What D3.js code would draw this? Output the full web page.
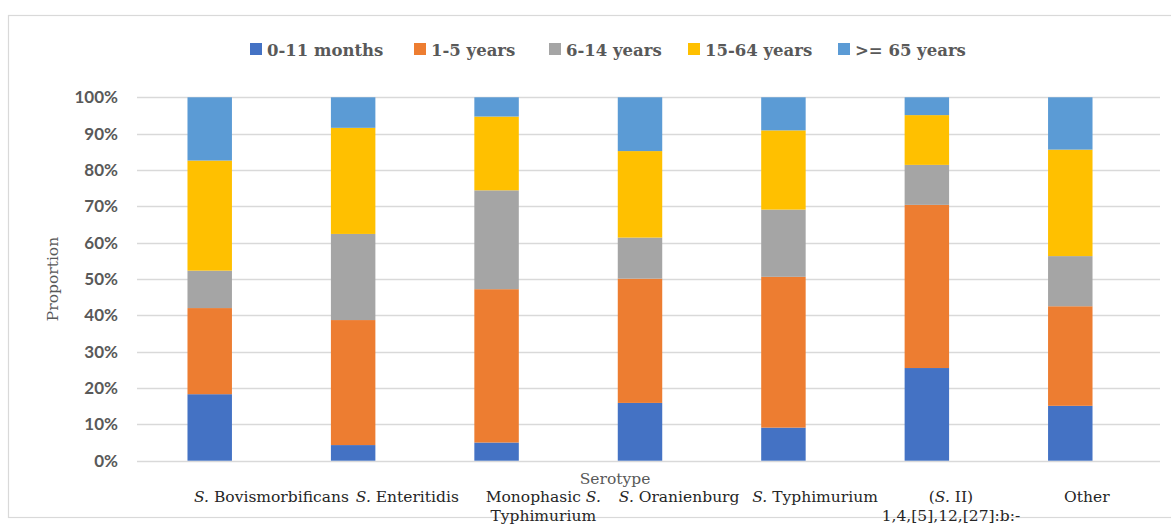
<!DOCTYPE html>
<html><head><meta charset="utf-8">
<script src="https://cdn.jsdelivr.net/npm/d3@7"></script>
<style>
html,body{margin:0;padding:0;background:#fff;}
svg{display:block;}
</style></head>
<body>
<script>
const categories = ["S. Bovismorbificans","S. Enteritidis","Monophasic S. Typhimurium","S. Oranienburg","S. Typhimurium","(S. II) 1,4,[5],12,[27]:b:-","Other"];
const seriesNames = ["0-11 months","1-5 years","6-14 years","15-64 years",">= 65 years"];
const age0_11m = [18.3, 4.3, 5.0, 15.9, 9.1, 25.5, 15.1];
const age1_5y  = [23.7, 34.4, 42.2, 34.2, 41.5, 44.9, 27.4];
const age6_14y = [10.3, 23.7, 27.2, 11.3, 18.5, 11.0, 13.8];
const age15_64y= [30.3, 29.2, 20.3, 23.8, 21.8, 13.7, 29.3];
const age65p   = [17.4, 8.4, 5.3, 14.8, 9.1, 4.9, 14.4];
const yTicks = [0,10,20,30,40,50,60,70,80,90,100];
const colors = ["#4472C4","#ED7D31","#A5A5A5","#FFC000","#5B9BD5"];

const labelLines = [
  [[["S.",true],[" Bovismorbificans",false]]],
  [[["S.",true],[" Enteritidis",false]]],
  [[["Monophasic ",false],["S.",true]],[["Typhimurium",false]]],
  [[["S.",true],[" Oranienburg",false]]],
  [[["S.",true],[" Typhimurium",false]]],
  [[["(",false],["S.",true],[" II)",false]],[["1,4,[5],12,[27]:b:-",false]]],
  [[["Other",false]]]
];

const W = 1171, H = 524;
const svg = d3.select("body").append("svg").attr("width", W).attr("height", H);

svg.append("rect").attr("x", 8.5).attr("y", 15.5).attr("width", 1200).attr("height", 502)
  .attr("fill", "#fff").attr("stroke", "#d9d9d9").attr("stroke-width", 1.2);

const x = d3.scaleBand().domain(categories).range([138, 1142]).paddingInner(0.69).paddingOuter(0.345);
// tick labels in the reference sit offset to the right of their bars
const xLab = d3.scaleBand().domain(categories).range([203.5, 1154.8]);
const y = d3.scaleLinear().domain([0, 100]).range([460.7, 97.3]);

svg.append("g").selectAll("line").data(yTicks).join("line")
  .attr("x1", 137).attr("x2", 1160)
  .attr("y1", d => Math.round(y(d)) + 0.5).attr("y2", d => Math.round(y(d)) + 0.5)
  .attr("stroke", "#d9d9d9").attr("stroke-width", 1.3);

const yAxis = d3.axisLeft(y).tickValues(yTicks).tickFormat(d => d + "%").tickSize(0).tickPadding(0);
const ya = svg.append("g").attr("transform", "translate(118,0)").call(yAxis);
ya.select(".domain").remove();
ya.selectAll("text").attr("font-family", "Lato, 'Liberation Sans', sans-serif")
  .attr("font-weight", "bold").attr("font-size", 17).attr("fill", "#595959");

const table = categories.map((c, i) => ({
  cat: c,
  "0-11 months": age0_11m[i], "1-5 years": age1_5y[i], "6-14 years": age6_14y[i],
  "15-64 years": age15_64y[i], ">= 65 years": age65p[i]
}));
const stack = d3.stack().keys(seriesNames)(table);

svg.append("g").selectAll("g").data(stack).join("g")
  .attr("fill", (d, i) => colors[i])
  .selectAll("rect").data(d => d).join("rect")
  .attr("x", d => x(d.data.cat))
  .attr("width", x.bandwidth())
  .attr("y", d => y(d[1]))
  .attr("height", d => y(d[0]) - y(d[1]));

const serif = "'DejaVu Serif', 'Liberation Serif', serif";
const xl = svg.append("g");
categories.forEach((c, i) => {
  const cx = xLab(c) + xLab.bandwidth() / 2;
  labelLines[i].forEach((line, li) => {
    const t = xl.append("text").attr("x", cx).attr("y", 502 + li * 19)
      .attr("text-anchor", "middle").attr("font-family", serif)
      .attr("font-size", 15.5).attr("fill", "#262626");
    line.forEach(([s, it]) => {
      t.append("tspan").text(s).attr("font-style", it ? "italic" : "normal");
    });
  });
});

svg.append("text").attr("x", 615).attr("y", 484).attr("text-anchor", "middle")
  .attr("font-family", serif).attr("font-size", 15.5).attr("fill", "#595959").text("Serotype");
svg.append("text").attr("transform", "translate(58,279) rotate(-90)").attr("text-anchor", "middle")
  .attr("font-family", serif).attr("font-size", 15.5).attr("fill", "#595959").text("Proportion");

const legendX = [250, 414, 549, 688, 838];
const lg = svg.append("g");
seriesNames.forEach((s, i) => {
  lg.append("rect").attr("x", legendX[i]).attr("y", 43).attr("width", 12).attr("height", 12).attr("fill", colors[i]);
  lg.append("text").attr("x", legendX[i] + 17).attr("y", 56).attr("font-family", serif)
    .attr("font-weight", "bold").attr("font-size", 16.5).attr("fill", "#595959").text(s);
});
</script>
</body></html>
